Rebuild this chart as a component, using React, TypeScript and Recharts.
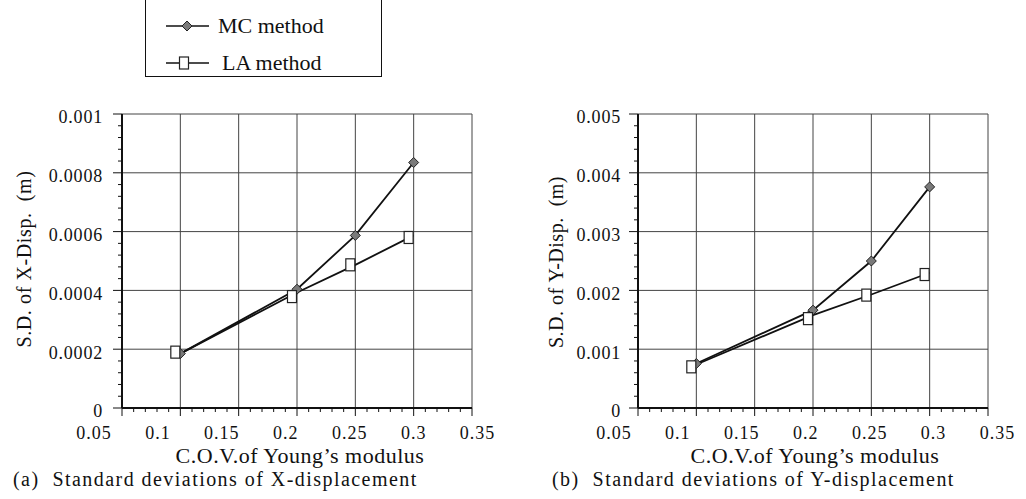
import React from 'react';
import { ComposedChart, Line, Scatter, XAxis, YAxis, CartesianGrid } from 'recharts';

// C.O.V. of Young's modulus (line vertices)
const covValues = [0.1, 0.2, 0.25, 0.3];
// where the LA squares sit (printed slightly left of the line vertices)
const laMarkCov = [0.0957, 0.1957, 0.2457, 0.2957];

// (a) S.D. of X-displacement (m)
const mcXDisp = [0.000185, 0.000404, 0.000587, 0.000835];
const laXDispLine = [0.000185, 0.000393, 0.000487, 0.000587];
const laXDispMarks = [0.00019, 0.000379, 0.000487, 0.00058];

// (b) S.D. of Y-displacement (m)
const mcYDisp = [0.000756, 0.001664, 0.0025, 0.00376];
const laYDispLine = [0.00074, 0.00158, 0.00193, 0.0023];
const laYDispMarks = [0.0007, 0.00152, 0.00192, 0.00227];

const xTicks = [0.05, 0.1, 0.15, 0.2, 0.25, 0.3, 0.35];
const xMinorTicks = [
  0.06, 0.07, 0.08, 0.09, 0.11, 0.12, 0.13, 0.14, 0.16, 0.17, 0.18, 0.19,
  0.21, 0.22, 0.23, 0.24, 0.26, 0.27, 0.28, 0.29, 0.31, 0.32, 0.33, 0.34,
];
const yTicksX = [0, 0.0002, 0.0004, 0.0006, 0.0008, 0.001];
const yMinorX = [
  0.00004, 0.00008, 0.00012, 0.00016, 0.00024, 0.00028, 0.00032, 0.00036, 0.00044, 0.00048,
  0.00052, 0.00056, 0.00064, 0.00068, 0.00072, 0.00076, 0.00084, 0.00088, 0.00092, 0.00096,
];
const yTicksY = [0, 0.001, 0.002, 0.003, 0.004, 0.005];
const yMinorY = [
  0.0002, 0.0004, 0.0006, 0.0008, 0.0012, 0.0014, 0.0016, 0.0018, 0.0022, 0.0024,
  0.0026, 0.0028, 0.0032, 0.0034, 0.0036, 0.0038, 0.0042, 0.0044, 0.0046, 0.0048,
];

const SERIF = '"Liberation Serif", "DejaVu Serif", serif';
const INK = '#111';

const toPts = (xs: number[], ys: number[]) => xs.map((x, i) => ({ x, y: ys[i] }));
const merged = (a: number[], b: number[]) => [...a, ...b].sort((p, q) => p - q);
const isMajor = (v: number, majors: number[]) => majors.some((m) => Math.abs(m - v) < 1e-9);

const Diamond = (props: any) => {
  const { cx, cy } = props;
  if (cx == null || cy == null) return null;
  return (
    <path
      d={`M${cx},${cy - 5} L${cx + 5},${cy} L${cx},${cy + 5} L${cx - 5},${cy} Z`}
      fill="#7a7a7a"
      stroke="#222"
      strokeWidth={1}
    />
  );
};

const Square = (props: any) => {
  const { cx, cy } = props;
  if (cx == null || cy == null) return null;
  return <rect x={cx - 4.5} y={cy - 6} width={9} height={12} fill="#fff" stroke="#222" strokeWidth={1.2} />;
};

// x axis tick: tick line drawn here (major long, minor short), label only on majors.
// printed x labels run a little wider than the grid, hence the anchor shift
const XTick = ({ x, y, payload, anchor }: any) => {
  const major = isMajor(payload.value, xTicks);
  return (
    <g>
      <line x1={x} y1={y} x2={x} y2={y + (major ? 8 : 4)} stroke={INK} strokeWidth={1} />
      {major && (
        <text
          x={x + (payload.value - anchor) * 112}
          y={y + 18}
          dy="0.71em"
          textAnchor="middle"
          fill={INK}
          fontFamily={SERIF}
          fontSize={18}
          style={{ letterSpacing: 1 }}
        >
          {String(payload.value)}
        </text>
      )}
    </g>
  );
};

const YTick = ({ x, y, payload, majors, gap }: any) => {
  const major = isMajor(payload.value, majors);
  return (
    <g>
      <line x1={x} y1={y} x2={x - (major ? 9 : 4)} y2={y} stroke={INK} strokeWidth={1} />
      {major && (
        <text
          x={x - gap}
          y={y + 3}
          dy="0.355em"
          textAnchor="end"
          fill={INK}
          fontFamily={SERIF}
          fontSize={18}
          style={{ letterSpacing: 0.8 }}
        >
          {String(payload.value)}
        </text>
      )}
    </g>
  );
};

function Panel({ left, width, mc, laLine, laMarks, yTicks, yMinor, yMax, anchor, margin, gap }: any) {
  return (
    <div style={{ position: 'absolute', left, top: 0 }}>
      <ComposedChart width={width} height={499} margin={margin}>
        <CartesianGrid stroke="#444" strokeWidth={1} verticalValues={xTicks} horizontalValues={yTicks} />
        <XAxis
          type="number"
          dataKey="x"
          domain={[0.05, 0.35]}
          ticks={merged(xTicks, xMinorTicks)}
          tick={<XTick anchor={anchor} />}
          tickSize={0}
          tickMargin={0}
          tickLine={false}
          height={30}
          axisLine={{ stroke: INK, strokeWidth: 2 }}
          interval={0}
          allowDataOverflow
        />
        <YAxis
          type="number"
          domain={[0, yMax]}
          ticks={merged(yTicks, yMinor)}
          tick={<YTick majors={yTicks} gap={gap} />}
          tickSize={0}
          tickMargin={0}
          tickLine={false}
          width={70}
          axisLine={{ stroke: INK, strokeWidth: 2 }}
          interval={0}
          allowDataOverflow
        />
        <Line data={laLine} dataKey="y" stroke={INK} strokeWidth={1.8} dot={false} isAnimationActive={false} />
        <Line
          data={mc}
          dataKey="y"
          stroke={INK}
          strokeWidth={1.8}
          dot={(p: any) => <Diamond key={`d-${p.index}`} {...p} />}
          isAnimationActive={false}
        />
        <Scatter data={laMarks} dataKey="y" shape={<Square />} isAnimationActive={false} />
      </ComposedChart>
    </div>
  );
}

const abs = (extra: any): React.CSSProperties => ({
  position: 'absolute',
  fontFamily: SERIF,
  color: INK,
  whiteSpace: 'nowrap',
  lineHeight: 1,
  ...extra,
});

export default function App() {
  return (
    <div style={{ position: 'absolute', left: 0, top: 0, width: 1026, height: 499, background: '#fff', overflow: 'hidden' }}>
      <Panel
        left={0}
        width={500}
        mc={toPts(covValues, mcXDisp)}
        laLine={toPts(covValues, laXDispLine)}
        laMarks={toPts(laMarkCov, laXDispMarks)}
        yTicks={yTicksX}
        yMinor={yMinorX}
        yMax={0.001}
        anchor={0.3}
        margin={{ top: 114, right: 28, bottom: 61, left: 52 }}
        gap={19}
      />
      <Panel
        left={520}
        width={506}
        mc={toPts(covValues, mcYDisp)}
        laLine={toPts(covValues, laYDispLine)}
        laMarks={toPts(laMarkCov, laYDispMarks)}
        yTicks={yTicksY}
        yMinor={yMinorY}
        yMax={0.005}
        anchor={0.265}
        margin={{ top: 114, right: 38, bottom: 61, left: 48 }}
        gap={17}
      />

      {/* legend */}
      <div style={abs({ left: 145, top: -1, width: 235, height: 76, border: '1.5px solid #111' })}>
        <svg width={60} height={76} style={{ position: 'absolute', left: 15, top: 0 }}>
          <line x1={5} y1={26} x2={48} y2={26} stroke={INK} strokeWidth={1.5} />
          <Diamond cx={26} cy={26} />
          <line x1={5} y1={63} x2={48} y2={63} stroke={INK} strokeWidth={1.5} />
          <Square cx={23} cy={63} />
        </svg>
        <div style={abs({ left: 72, top: 15, fontSize: 22 })}>MC method</div>
        <div style={abs({ left: 76, top: 52, fontSize: 22 })}>LA method</div>
      </div>

      {/* axis titles */}
      <div style={abs({ left: 24, top: 259, fontSize: 20, letterSpacing: 0.6, transform: 'translate(-50%, -50%) rotate(-90deg)' })}>
        S.D. of X-Disp.&nbsp;&nbsp;(m)
      </div>
      <div style={abs({ left: 556, top: 262, fontSize: 20, letterSpacing: 0.5, transform: 'translate(-50%, -50%) rotate(-90deg)' })}>
        S.D. of Y-Disp.&nbsp;&nbsp;(m)
      </div>
      <div style={abs({ left: 300, top: 456, fontSize: 22, lineHeight: '20px', letterSpacing: 0.5, transform: 'translate(-50%, -50%)' })}>
        C.O.V.of Young’s modulus
      </div>
      <div style={abs({ left: 815, top: 456, fontSize: 22, lineHeight: '20px', letterSpacing: 0.5, transform: 'translate(-50%, -50%)' })}>
        C.O.V.of Young’s modulus
      </div>

      {/* captions */}
      <div style={abs({ left: 13, top: 479, fontSize: 20, lineHeight: '18px', letterSpacing: 1.45, transform: 'translateY(-50%)' })}>
        (a)&nbsp; Standard deviations of X-displacement
      </div>
      <div style={abs({ left: 552, top: 479, fontSize: 20, lineHeight: '18px', letterSpacing: 1.45, transform: 'translateY(-50%)' })}>
        (b)&nbsp; Standard deviations of Y-displacement
      </div>
    </div>
  );
}
